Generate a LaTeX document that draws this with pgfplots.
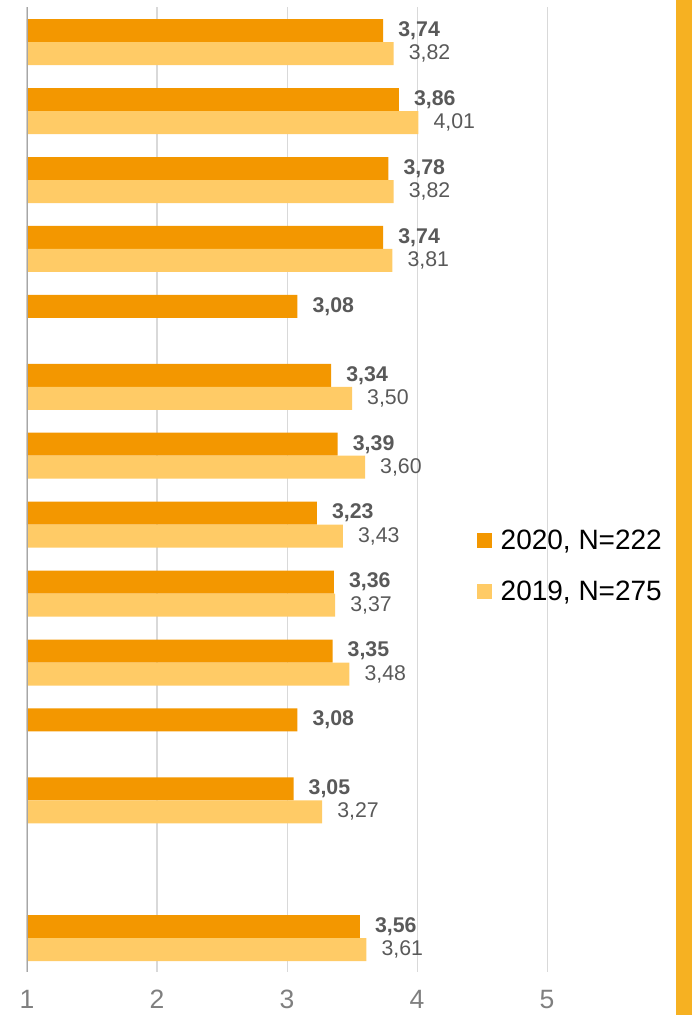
\documentclass[border=0pt]{standalone}
\usepackage{fontspec}
\setmainfont{Liberation Sans}
\usepackage{pgfplots}
\usepackage{pgfplotstable}
\pgfplotsset{compat=1.18}

\definecolor{bar20}{HTML}{F39700}
\definecolor{bar19}{HTML}{FFCB66}
\definecolor{band}{HTML}{F6B122}
\definecolor{lblgray}{HTML}{595959}
\definecolor{tickgray}{HTML}{7F7F7F}
\definecolor{gridgray}{HTML}{D9D9D9}
\definecolor{axgray}{HTML}{A6A6A6}

% row position (13 = top), value
\pgfplotstableread{
y v
13 3.74
12 3.86
11 3.78
10 3.74
9 3.08
8 3.34
7 3.39
6 3.23
5 3.36
4 3.35
3 3.08
2 3.05
0 3.56
}\tabA

\pgfplotstableread{
y v
13 3.82
12 4.01
11 3.82
10 3.81
8 3.50
7 3.60
6 3.43
5 3.37
4 3.48
2 3.27
0 3.61
}\tabB

\pgfkeys{/pgf/number format/assume math mode=true}

\begin{document}
\begin{tikzpicture}
\path[use as bounding box] (0,0) rectangle (692pt,1015pt);
\fill[band] (676pt,0) rectangle (692pt,1015pt);
\begin{axis}[
    at={(27pt,43pt)}, anchor=south west,
    scale only axis, width=650pt, height=965pt,
    xmin=1, xmax=6, ymin=-0.49, ymax=13.51,
    enlargelimits=false,
    xbar, bar width=23pt,
    axis line style={draw=none},
    major tick length=0pt,
    xtick={1,2,3,4,5}, ytick=\empty,
    xmajorgrids, grid style={gridgray, line width=1pt},
    xticklabel style={font=\fontsize{26.5}{30}\selectfont, text=tickgray, anchor=base, inner sep=0pt, yshift=-37pt},
    point meta=x,
    nodes near coords={\pgfmathprintnumber[fixed,fixed zerofill,precision=2,use comma]{\pgfplotspointmeta}},
    every node near coord/.append style={anchor=west, inner sep=0pt, xshift=15pt, text=lblgray},
    legend image code/.code={\fill[#1] (0pt,-7.5pt) rectangle (15pt,7.5pt);},
    legend style={at={(axis cs:4.4615,5.40)}, anchor=west, draw=none, fill=none,
        inner sep=0pt, row sep=26pt, column sep=6.5pt,
        font=\fontsize{28}{32}\selectfont, cells={anchor=west, inner sep=0pt}},
]
\addplot[fill=bar20, draw=none, bar shift=11.5pt,
    every node near coord/.append style={font=\fontsize{21.3}{24}\selectfont\bfseries}]
    table[x=v, y=y] {\tabA};
\addlegendentry{2020, N=222}
\addplot[fill=bar19, draw=none, bar shift=-11.5pt,
    every node near coord/.append style={font=\fontsize{21.3}{24}\selectfont}]
    table[x=v, y=y] {\tabB};
\addlegendentry{2019, N=275}
\draw[axgray, line width=1.5pt] (rel axis cs:0,0) -- (rel axis cs:0,1);
\end{axis}
\end{tikzpicture}
\end{document}
